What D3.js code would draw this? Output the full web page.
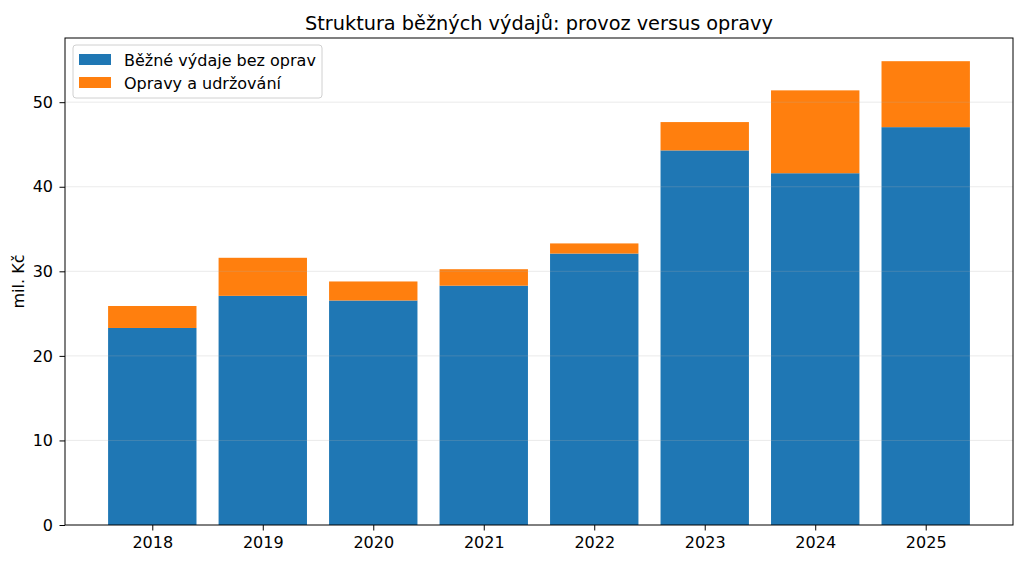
<!DOCTYPE html>
<html><head><meta charset="utf-8">
<script src="https://cdn.jsdelivr.net/npm/d3@7"></script>
<style>body{margin:0;background:#fff}svg{display:block}text{font-family:"DejaVu Sans",sans-serif;fill:#000}</style>
</head><body>
<script>
const years = ["2018","2019","2020","2021","2022","2023","2024","2025"];
const provoz = [23.3, 27.1, 26.55, 28.3, 32.1, 44.3, 41.6, 47.05];
const opravy = [2.6, 4.5, 2.25, 1.95, 1.2, 3.35, 9.8, 7.8];
const yTicks = [0,10,20,30,40,50];
const seriesNames = ["Běžné výdaje bez oprav","Opravy a udržování"];
const colors = ["#1f77b4","#ff7f0e"];

const W=1024,H=563, L=65, R=1013, T=38, B=525;
const FS=16;
const svg=d3.select("body").append("svg").attr("width",W).attr("height",H);
const x=d3.scaleLinear().domain([-0.79, years.length-1+0.79]).range([L,R]);
const totals=provoz.map((v,i)=>v+opravy[i]);
const y=d3.scaleLinear().domain([0, d3.max(totals)*1.05]).range([B,T]);
const bw = x(0.4)-x(-0.4);

const stack = years.map((yr,i)=>({yr,i,a:provoz[i],b:opravy[i]}));
const g=svg.append("g");
g.selectAll("rect.a").data(stack).join("rect").attr("x",d=>x(d.i)-bw/2).attr("width",bw)
 .attr("y",d=>y(d.a)).attr("height",d=>y(0)-y(d.a)).attr("fill",colors[0]);
g.selectAll("rect.b").data(stack).join("rect").attr("x",d=>x(d.i)-bw/2).attr("width",bw)
 .attr("y",d=>y(d.a+d.b)).attr("height",d=>y(d.a)-y(d.a+d.b)).attr("fill",colors[1]);

// grid
svg.append("g").selectAll("line").data(yTicks.filter(t=>t>0)).join("line")
 .attr("x1",L).attr("x2",R).attr("y1",d=>y(d)).attr("y2",d=>y(d))
 .attr("stroke","#b0b0b0").attr("stroke-opacity",0.25).attr("stroke-width",1);

// axes
const ya=svg.append("g").attr("transform",`translate(${L},0)`)
 .call(d3.axisLeft(y).tickValues(yTicks).tickSize(5.5).tickPadding(6.5).tickFormat(d3.format("d")));
const xa=svg.append("g").attr("transform",`translate(0,${B})`)
 .call(d3.axisBottom(x).tickValues(years.map((d,i)=>i)).tickSize(5.5).tickPadding(6.5).tickFormat(i=>years[i]));
[ya,xa].forEach(a=>{a.select(".domain").remove();a.selectAll("text").attr("font-size",FS).attr("font-family","DejaVu Sans");a.selectAll("line").attr("stroke","#000").attr("stroke-width",1)});
svg.append("rect").attr("x",L).attr("y",T).attr("width",R-L).attr("height",B-T)
 .attr("fill","none").attr("stroke","#000").attr("stroke-width",1);

// title
svg.append("text").attr("x",(L+R)/2).attr("y",T-8).attr("text-anchor","middle").attr("font-size",19.3)
 .text("Struktura běžných výdajů: provoz versus opravy");
// y label
svg.append("text").attr("transform",`translate(24,${(T+B)/2}) rotate(-90)`).attr("text-anchor","middle")
 .attr("font-size",FS).text("mil. Kč");

// legend
const lg=svg.append("g");
lg.append("rect").attr("x",73).attr("y",45).attr("width",249).attr("height",53).attr("rx",3)
 .attr("fill","#fff").attr("fill-opacity",0.8).attr("stroke","#d0d0d0").attr("stroke-width",1);
seriesNames.forEach((n,i)=>{
  lg.append("rect").attr("x",79).attr("y",54+i*23).attr("width",32).attr("height",11).attr("fill",colors[i]);
  lg.append("text").attr("x",124).attr("y",65.5+i*23).attr("font-size",FS).text(n);
});
</script>
</body></html>
